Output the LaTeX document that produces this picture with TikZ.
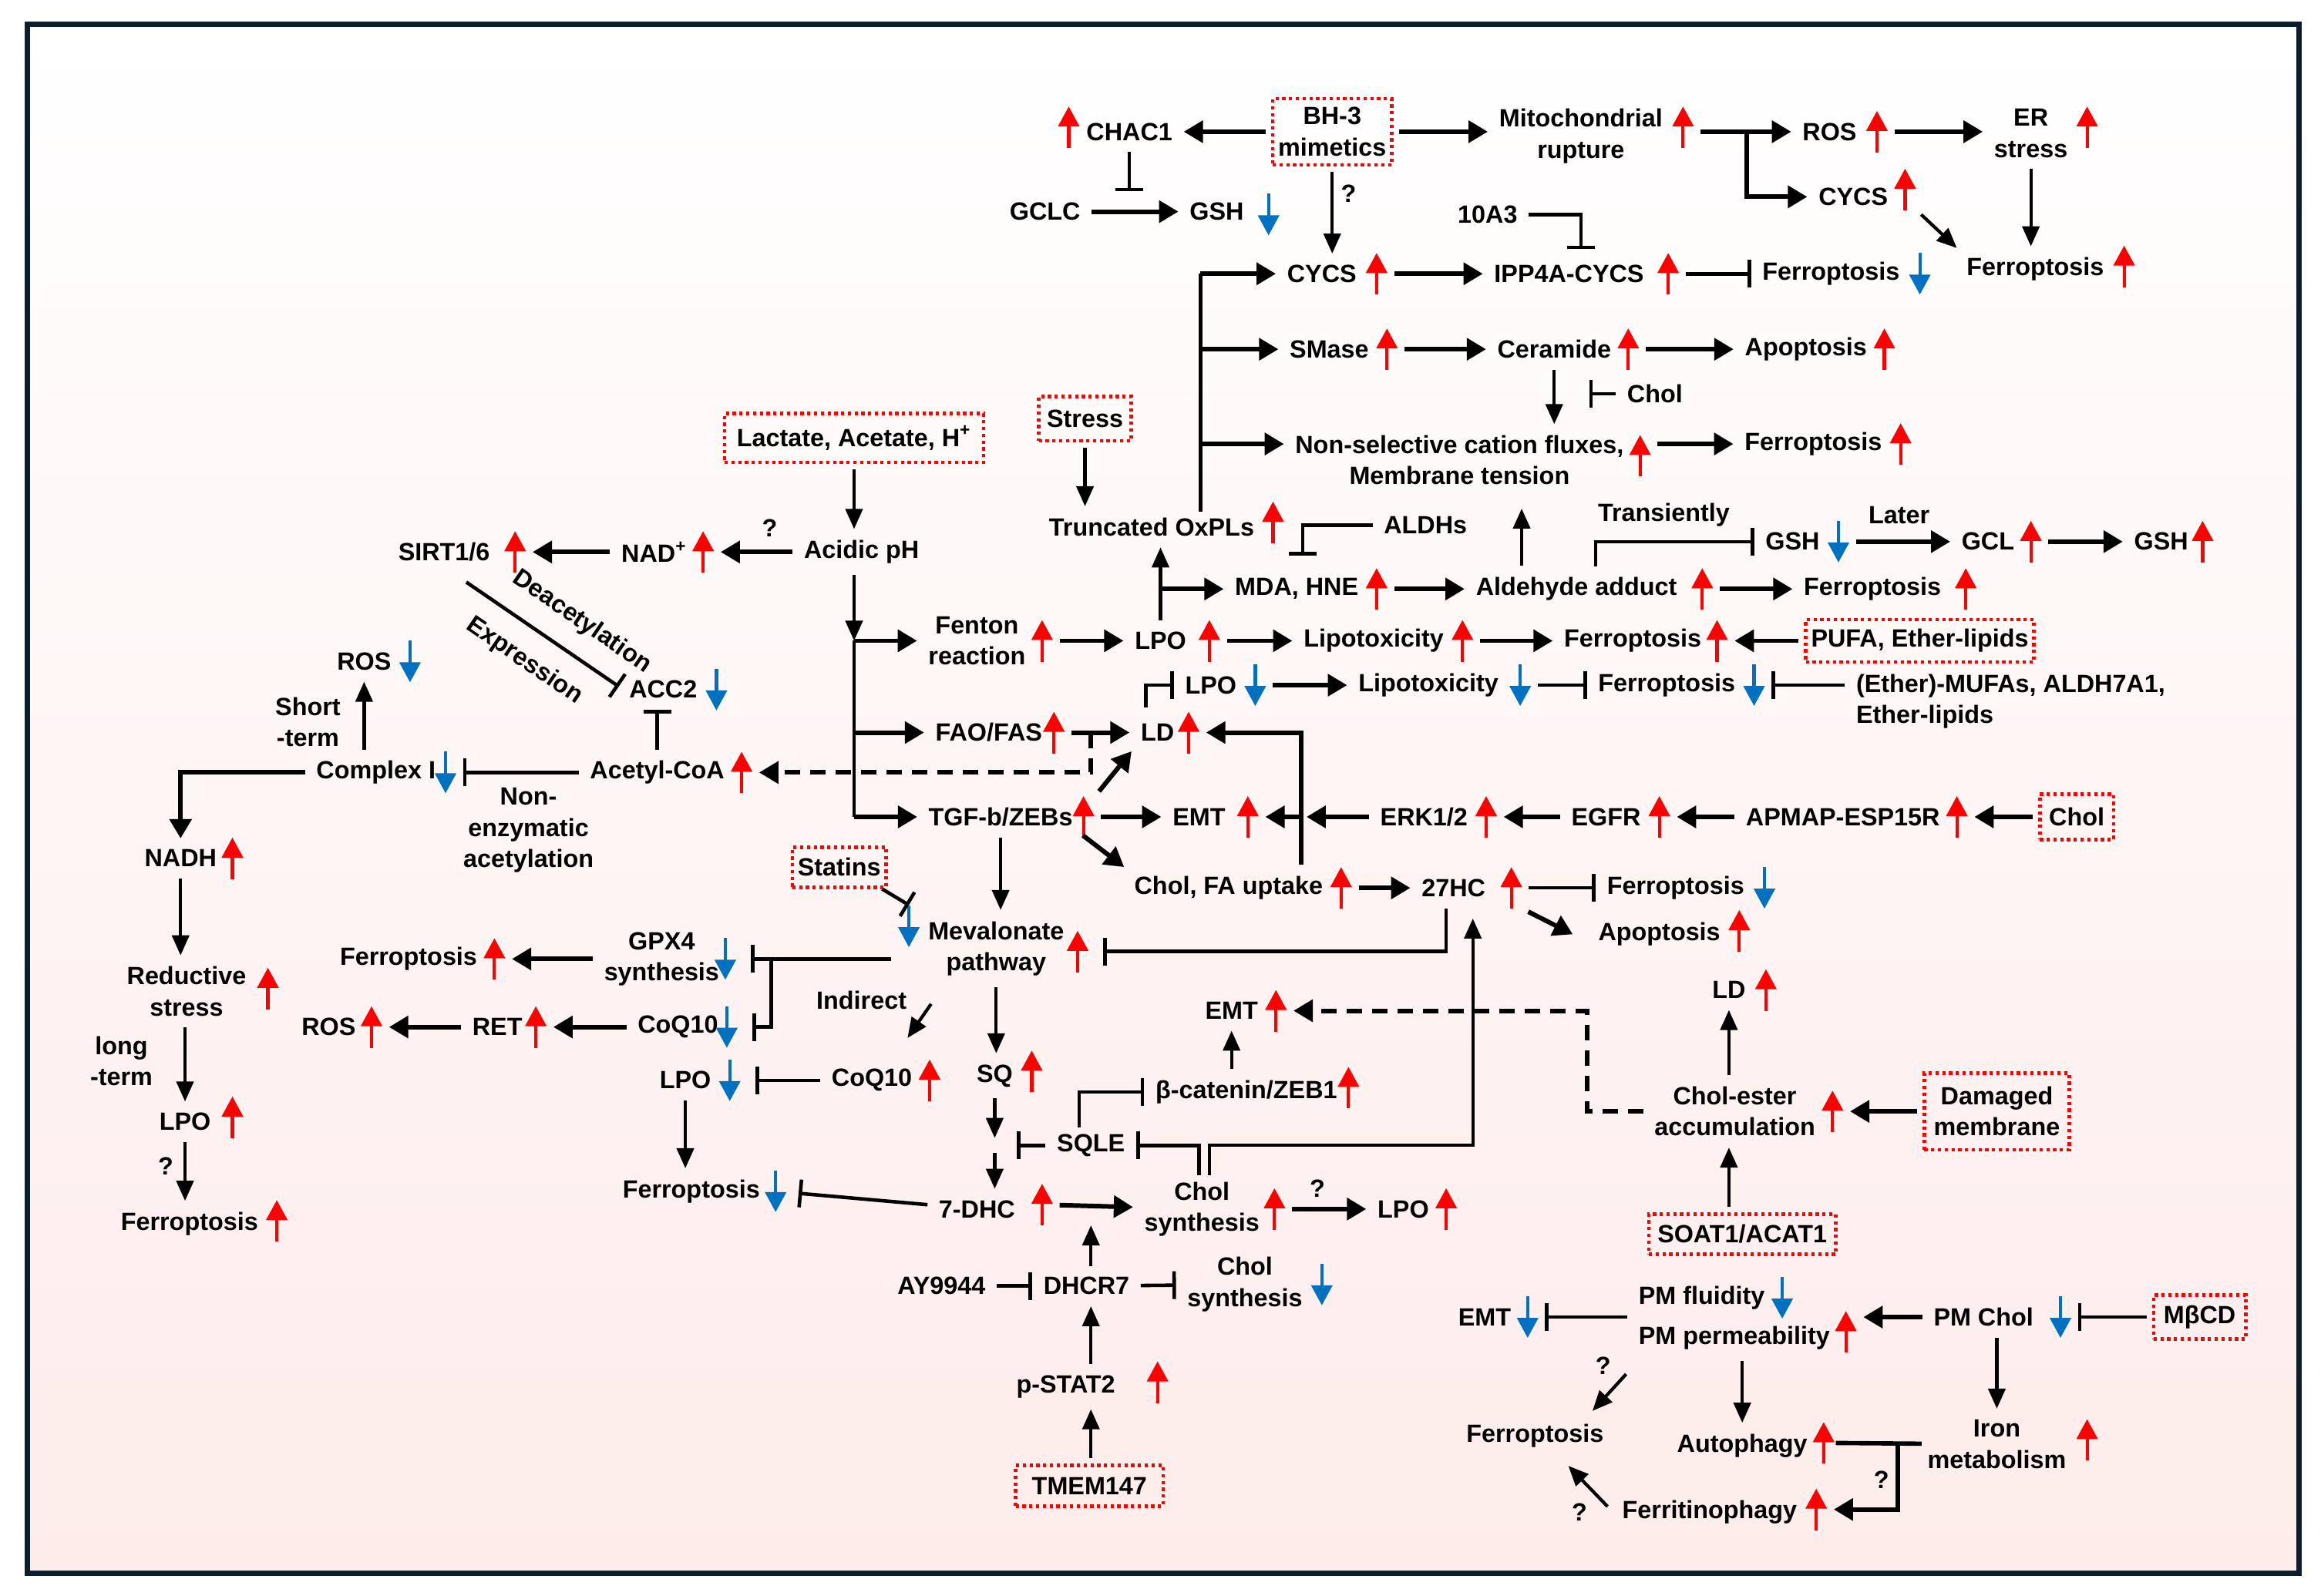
\documentclass[tikz,border=0pt]{standalone}
\usepackage{fontspec}
\setmainfont{Liberation Sans}
\usetikzlibrary{arrows.meta}
\definecolor{upred}{RGB}{255,0,0}
\definecolor{dnblue}{RGB}{0,112,192}
\definecolor{framec}{RGB}{12,29,43}
\definecolor{bgpink}{RGB}{253,236,234}
\tikzset{
  mol/.style={font=\bfseries\fontsize{9.2}{11.5}\selectfont,align=center,inner sep=2pt},
  drug/.style={mol,draw=upred,line width=1.3pt,dash pattern=on 1.2pt off 1.3pt,inner xsep=3pt,inner ysep=4pt},
  upr/.style={inner sep=0pt,minimum width=0.3cm,minimum height=0.54cm,path picture={\draw[upred,line width=1.2pt,-{Triangle[length=0.26cm,width=0.27cm]}] (path picture bounding box.south) -- (path picture bounding box.north);}},
  dnb/.style={inner sep=0pt,minimum width=0.3cm,minimum height=0.54cm,path picture={\draw[dnblue,line width=1.2pt,-{Triangle[length=0.26cm,width=0.27cm]}] (path picture bounding box.north) -- (path picture bounding box.south);}},
  act/.style={line width=1.7pt,-{Triangle[length=0.25cm,width=0.28cm]},shorten <=2pt,shorten >=2pt},
  actv/.style={line width=1.2pt,-{Triangle[length=0.26cm,width=0.22cm]},shorten <=2pt,shorten >=2pt},
  inh/.style={line width=1.3pt,-{Bar[width=0.36cm]},shorten <=2pt,shorten >=2pt},
  dasharr/.style={act,dash pattern=on 0.2cm off 0.13cm},
  plain/.style={line width=1.3pt}
}
\newcommand{\mol}[4]{\node[mol] (#1) at (#2,#3) {#4};}
\newcommand{\drug}[4]{\node[drug] (#1) at (#2,#3) {#4};}
\newcommand{\upr}[3]{\node[upr] (#1) at (#2,#3) {};}
\newcommand{\dnb}[3]{\node[dnb] (#1) at (#2,#3) {};}
\newcommand{\act}[2]{\draw[act] (#1) -- (#2);}
\newcommand{\inh}[2]{\draw[inh] (#1) -- (#2);}

\begin{document}
\begin{tikzpicture}[x=0.0192cm,y=-0.0192cm]
    \useasboundingbox (0,0) rectangle (1568,1078);
    \shade[top color=white,bottom color=bgpink] (18.5,16.5) rectangle (1553,1063);
    \draw[framec,line width=2pt] (18.5,16.5) rectangle (1553,1063);

    \node[drug,inner xsep=2pt,inner ysep=3.2pt] (bh) at (900,89) {BH-3\\mimetics};
    \mol{chac}{763}{89}{CHAC1} \upr{chacU}{722}{86}
    \mol{mito}{1068}{92}{Mitochondrial\\rupture} \upr{mitoU}{1137}{86}
    \mol{rosA}{1236}{89}{ROS} \upr{rosAU}{1268}{89}
    \mol{er}{1372}{90}{ER\\stress} \upr{erU}{1410}{86}
    \mol{cycsA}{1252}{133}{CYCS} \upr{cycsAU}{1287}{128}
    \mol{ferA}{1375}{182}{Ferroptosis} \upr{ferAU}{1435}{180}
    \mol{gclc}{706}{143}{GCLC} \mol{gshA}{822}{143}{GSH} \dnb{gshAD}{857}{145}
    \mol{qA}{911}{131}{?} \mol{tenA}{1005}{145}{10A3}
    \mol{cycsB}{893}{185}{CYCS} \upr{cycsBU}{930}{185}
    \mol{ipp}{1060}{185}{IPP4A-CYCS} \upr{ippU}{1127}{185}
    \mol{ferB}{1237}{185}{Ferroptosis} \dnb{ferBD}{1297}{185}
    \mol{smase}{898}{236}{SMase} \upr{smaseU}{937}{236}
    \mol{cer}{1050}{236}{Ceramide} \upr{cerU}{1100}{236}
    \mol{apoA}{1220}{236}{Apoptosis} \upr{apoAU}{1273}{236}
    \mol{cholA}{1118}{266}{Chol}
    \mol{nsc}{986}{311}{Non-selective cation fluxes,\\Membrane tension} \upr{nscU}{1108}{308}
    \mol{ferC}{1225}{300}{Ferroptosis} \upr{ferCU}{1284}{300}

    \act{bh}{chac} \draw[act] (bh.east) -- (bh.east -| mito.west);
    \draw[act] (mitoU.east |- rosA) -- (rosA);
    \coordinate (brA) at (1180,89); \draw[act,shorten <=0pt] (brA) |- (cycsA);
    \draw[act] (rosAU) -- (er.west |- rosAU);
    \draw[actv] (cycsAU.south east) -- (ferA.north west);
    \draw[actv] (er) -- (er |- ferA.north);
    \draw[actv] (bh) -- (bh |- cycsB.north);
    \act{gclc}{gshA} \draw[inh] (chac) -- (chac |- gshA.north);
    \coordinate (ippT) at (1068,172); \draw[inh] (tenA) -| (ippT);
    \act{cycsBU}{ipp} \inh{ippU}{ferB}
    \act{smaseU}{cer} \act{cerU}{apoA}
    \draw[actv] (cer) -- (cer |- nsc.north);
    \coordinate (cerB) at (1070,266); \inh{cholA}{cerB}
    \draw[act] (nscU.east |- ferC) -- (ferC);

    \mol{trunc}{778}{356}{Truncated OxPLs} \upr{truncU}{860}{353}
    \coordinate (trkT) at (811,185);
    \draw[plain] (trunc.north -| trkT) -- (trkT);
    \draw[act,shorten <=0pt] (trkT) -- (cycsB);
    \draw[act,shorten <=0pt] (trkT |- smase) -- (smase);
    \draw[act,shorten <=0pt] (trkT |- ferC) -- (nsc.west |- ferC);
    \node[drug,inner xsep=3pt,inner ysep=4.9pt] (stress) at (733,283) {Stress};
    \draw[actv] (stress) -- (stress |- trunc.north);

    \node[drug,inner xsep=4.5pt,inner ysep=4.5pt] (lac) at (577,296) {Lactate, Acetate, H\textsuperscript{+}};
    \mol{acid}{582}{373}{Acidic pH} \draw[actv] (lac) -- (lac |- acid.north);
    \mol{nad}{442}{373}{NAD\textsuperscript{+}} \upr{nadU}{475}{373}
    \mol{sirt}{300}{373}{SIRT1/6} \upr{sirtU}{348}{373}
    \mol{qB}{520}{357}{?}
    \act{acid}{nadU} \act{nad}{sirtU}
    \mol{acc}{448}{466}{ACC2} \dnb{accD}{484}{466}
    \draw[inh] ([shift={(12,8)}]sirt.south) -- (acc.west)
        node[mol,pos=0.63,sloped,above=5pt] {Deacetylation}
        node[mol,pos=0.5,sloped,below=5pt] {Expression};
    \mol{acetyl}{444}{522}{Acetyl-CoA} \upr{acetylU}{501}{522}
    \draw[inh] (acetyl) -- (acetyl |- acc.south);
    \mol{compI}{254}{522}{Complex I} \dnb{compID}{301}{522}
    \inh{acetyl}{compID}
    \mol{rosB}{246}{447}{ROS} \dnb{rosBD}{277}{447}
    \mol{shortT}{208}{488}{Short\\-term}
    \draw[actv] (compI.north -| rosB) -- (rosB);
    \mol{nacet}{357}{561}{Non-\\enzymatic\\acetylation}
    \mol{nadh}{122}{580}{NADH} \upr{nadhU}{157}{580}
    \draw[act] (compI) -| (nadh);
    \mol{redst}{126}{670}{Reductive\\stress} \upr{redstU}{181}{668}
    \draw[actv] (nadh) -- (nadh |- redst.north);
    \mol{longT}{82}{717}{long\\-term}
    \mol{lpoA}{125}{758}{LPO} \upr{lpoAU}{157}{755}
    \draw[actv] (redst.south -| lpoA) -- (lpoA);
    \mol{qC}{112}{788}{?}
    \mol{ferD}{128}{827}{Ferroptosis} \upr{ferDU}{187}{825}
    \draw[actv] (lpoA) -- (lpoA |- ferD.north);

    \coordinate (jA) at (577,433); \coordinate (jB) at (577,552);
    \draw[actv,shorten >=0pt] (acid.south -| jA) -- (jA);
    \draw[plain] (jA) -- (jB);
    \mol{fenton}{660}{433}{Fenton\\reaction} \upr{fentonU}{704}{433}
    \draw[act,shorten <=0pt] (jA) -- (fenton);
    \mol{lpoB}{784}{433}{LPO} \upr{lpoBU}{817}{433}
    \mol{lipoA}{928}{433}{Lipotoxicity} \upr{lipoAU}{988}{433}
    \mol{ferE}{1103}{433}{Ferroptosis} \upr{ferEU}{1160}{433}
    \node[drug,inner xsep=2pt,inner ysep=3.5pt] (pufa) at (1297,433) {PUFA, Ether-lipids};
    \act{fentonU}{lpoB} \act{lpoBU}{lipoA} \act{lipoAU}{ferE} \act{pufa}{ferEU}
    \mol{mda}{876}{398}{MDA, HNE} \upr{mdaU}{930}{398}
    \draw[actv] (lpoB.north) -- (lpoB.north |- trunc.south);
    \draw[act,shorten <=0pt] (lpoB.north |- mda) -- (mda);
    \mol{aldh}{963}{355}{ALDHs} \coordinate (aldhB) at (880,379);
    \draw[inh] (aldh) -| (aldhB);
    \mol{ald}{1065}{398}{Aldehyde adduct} \upr{aldU}{1150}{398}
    \act{mdaU}{ald}
    \coordinate (aldT) at (1028,340); \draw[actv] (ald.north -| aldT) -- (aldT);
    \mol{ferF}{1265}{398}{Ferroptosis} \upr{ferFU}{1328}{398}
    \act{aldU}{ferF}
    \mol{trans}{1124}{348}{Transiently}
    \mol{gshB}{1211}{366}{GSH} \dnb{gshBD}{1242}{366}
    \coordinate (trS) at (1078,383); \draw[inh,shorten <=0pt] (trS) |- (gshB);
    \mol{later}{1283}{348}{Later}
    \mol{gcl}{1343}{366}{GCL} \upr{gclU}{1372}{366}
    \mol{gshC}{1460}{366}{GSH} \upr{gshCU}{1488}{366}
    \act{gshBD}{gcl} \act{gclU}{gshC}

    \mol{lpoC}{818}{463}{LPO} \dnb{lpoCD}{848}{463}
    \mol{lipoB}{965}{463}{Lipotoxicity} \dnb{lipoBD}{1027}{463}
    \mol{ferG}{1126}{463}{Ferroptosis} \dnb{ferGD}{1185}{463}
    \node[mol,align=left,anchor=west] (mufa) at (1250,474) {(Ether)-MUFAs, ALDH7A1,\\Ether-lipids};
    \act{lpoCD}{lipoB} \inh{lipoBD}{ferG}
    \draw[inh] (mufa.west |- ferGD) -- (ferGD);

    \mol{fao}{668}{495}{FAO/FAS} \upr{faoU}{712}{495}
    \mol{ldA}{782}{495}{LD} \upr{ldAU}{803}{495}
    \draw[act,shorten <=0pt] (jA |- fao) -- (fao);
    \act{faoU}{ldA}
    \coordinate (ldT) at (774,478); \draw[inh,shorten <=0pt] (ldT) |- (lpoC);
    \coordinate (dsh) at (737,495); \draw[dasharr,shorten <=0pt] (dsh) |- (acetylU);

    \mol{tgf}{676}{552}{TGF-b/ZEBs} \upr{tgfU}{732}{552}
    \mol{emtA}{810}{552}{EMT} \upr{emtAU}{843}{552}
    \mol{erk}{962}{552}{ERK1/2} \upr{erkU}{1004}{552}
    \mol{egfr}{1085}{552}{EGFR} \upr{egfrU}{1121}{552}
    \mol{apmap}{1245}{552}{APMAP-ESP15R} \upr{apmapU}{1322}{552}
    \node[drug,inner xsep=3.4pt,inner ysep=5pt] (cholB) at (1403,552) {Chol};
    \draw[act,shorten <=0pt] (jB) -- (tgf);
    \draw[act] (tgfU.north east) -- (ldA.south west);
    \act{tgfU}{emtA}
    \mol{cfa}{830}{600}{Chol, FA uptake} \upr{cfaU}{906}{600}
    \coordinate (cfR) at (879,588); \draw[act] (cfR) |- (ldAU);
    \draw[act,shorten <=0pt] (cfR |- emtA) -- (emtAU);
    \draw[act] (erk) -- (cfR |- erk);
    \act{egfr}{erkU} \act{apmap}{egfrU} \act{cholB}{apmapU}
    \draw[act] (tgf.south east) -- (cfa.north west);
    \mol{hc}{982}{600}{27HC} \upr{hcU}{1021}{600}
    \mol{ferH}{1132}{600}{Ferroptosis} \dnb{ferHD}{1192}{600}
    \mol{apoB}{1121}{631}{Apoptosis} \upr{apoBU}{1175}{629}
    \act{cfaU}{hc} \inh{hcU}{ferH}
    \draw[act] (hcU.south east) -- ([shift={(-10,2)}]apoB.west);

    \node[drug,inner xsep=2pt,inner ysep=4pt] (statins) at (567,586) {Statins};
    \mol{meva}{673}{641}{Mevalonate\\pathway} \dnb{mevaD}{614}{626} \upr{mevaU}{728}{643}
    \draw[inh,shorten <=0pt,shorten >=0pt] ([shift={(-4,0)}]statins.south east) -- (mevaD.north);
    \draw[actv] (tgf.south) -- (tgf.south |- meva.north);
    \coordinate (hcS) at (977,614); \draw[inh,shorten <=0pt,shorten >=5pt] (hcS) |- (mevaU);
    \mol{gpx}{447}{648}{GPX4\\synthesis} \dnb{gpxD}{490}{648}
    \mol{ferI}{276}{648}{Ferroptosis} \upr{ferIU}{334}{648}
    \draw[inh,shorten >=5pt] (mevaD.west |- gpxD) -- (gpxD);
    \mol{coqA}{458}{694}{CoQ10} \dnb{coqAD}{491}{694}
    \coordinate (jG) at (521,648); \draw[inh,shorten <=0pt,shorten >=5pt] (jG) |- (coqAD);
    \mol{ret}{336}{694}{RET} \upr{retU}{362}{694}
    \mol{rosC}{222}{694}{ROS} \upr{rosCU}{251}{694}
    \act{gpx}{ferIU} \act{coqA}{retU} \act{ret}{rosCU}
    \mol{indir}{582}{676}{Indirect}
    \mol{coqB}{589}{730}{CoQ10} \upr{coqBU}{628}{730}
    \mol{sq}{672}{727}{SQ} \upr{sqU}{697}{724}
    \mol{lpoD}{463}{730}{LPO} \dnb{lpoDD}{493}{730}
    \mol{ferJ}{467}{805}{Ferroptosis} \dnb{ferJD}{524}{805}
    \draw[actv] ([shift={(8,12)}]meva.south west) -- ([shift={(22,-14)}]coqB.north);
    \draw[actv] (meva) -- (meva |- sq.north);
    \draw[inh,shorten >=5pt] (coqB) -- (lpoDD);
    \draw[actv] (lpoD) -- (lpoD |- ferJ.north);

    \coordinate (sqA) at (672,769); \coordinate (sqB) at (672,779);
    \draw[actv,shorten >=0pt] (sq) -- (sqA);
    \mol{dhc}{660}{817}{7-DHC} \upr{dhcU}{704}{814}
    \draw[actv,shorten <=0pt] (sqB) -- (sqB |- dhc.north);
    \mol{sqle}{737}{774}{SQLE} \coordinate (sqBar) at (687,774);
    \draw[inh,shorten >=0pt] (sqle) -- (sqBar);
    \mol{bcat}{842}{738}{β-catenin/ZEB1} \upr{bcatU}{911}{735}
    \mol{emtB}{832}{683}{EMT} \upr{emtBU}{862}{683}
    \coordinate (sqT) at (729,762); \draw[inh,shorten <=0pt] (sqT) |- (bcat);
    \draw[actv] (bcat.north -| emtB) -- (emtB);
    \mol{csA}{812}{817}{Chol\\synthesis} \upr{csAU}{861}{817}
    \mol{lpoE}{948}{817}{LPO} \upr{lpoEU}{977}{817}
    \mol{qD}{890}{803}{?}
    \act{dhcU}{csA} \act{csAU}{lpoE}
    \draw[inh,shorten >=4pt] (dhc) -- (ferJD);
    \coordinate (csL) at (810,794); \coordinate (csR) at (817,794);
    \draw[inh,shorten <=0pt] (csL) |- (sqle);
    \coordinate (hcIn) at (995,617);
    \draw[actv,shorten <=0pt] (csR) |- (hcIn |- sqle) -- (hcIn);
    \mol{dhcr}{734}{869}{DHCR7} \mol{ay}{636}{869}{AY9944}
    \mol{csB}{841}{868}{Chol\\synthesis} \dnb{csBD}{893}{868}
    \coordinate (dhT) at (737,828); \draw[actv,shorten >=0pt] (dhcr.north -| dhT) -- (dhT);
    \inh{ay}{dhcr} \inh{dhcr}{csB}
    \mol{pstat}{720}{937}{p-STAT2} \upr{pstatU}{782}{934}
    \node[drug,inner xsep=6pt,inner ysep=4.3pt] (tmem) at (736,1004) {TMEM147};
    \draw[actv] (pstat.north -| dhT) -- (dhcr.south -| dhT);
    \draw[actv] (tmem.north -| dhT) -- (pstat.south -| dhT);

    \mol{ldB}{1168}{669}{LD} \upr{ldBU}{1193}{669}
    \mol{ce}{1172}{751}{Chol-ester\\accumulation} \upr{ceU}{1238}{751}
    \node[drug,inner xsep=3.5pt,inner ysep=5pt] (dm) at (1349,751) {Damaged\\membrane};
    \node[drug,inner xsep=3.2pt,inner ysep=4pt] (soat) at (1177,834) {SOAT1/ACAT1};
    \draw[actv] (ce.north -| ldB) -- (ldB);
    \act{dm}{ceU}
    \draw[actv] (soat.north -| ldB) -- (ce.south -| ldB);
    \coordinate (dshB) at (1072,683); \draw[dasharr] (ce.west) -| (dshB) -- (emtBU);
    \node[mol,anchor=west] (pmf) at (1103,877) {PM fluidity}; \dnb{pmfD}{1204}{877}
    \node[mol,anchor=west] (pmp) at (1103,904) {PM permeability}; \upr{pmpU}{1247}{900}
    \mol{emtC}{1003}{890}{EMT} \dnb{emtCD}{1032}{890}
    \mol{pmc}{1340}{890}{PM Chol} \dnb{pmcD}{1392}{890}
    \node[drug,inner xsep=3.7pt,inner ysep=3.8pt] (mbcd) at (1486,890) {MβCD};
    \draw[inh] (pmf.west |- emtC) -- (emtCD);
    \draw[act] (pmc) -- (pmpU.east |- pmc);
    \inh{mbcd}{pmcD}
    \mol{ferK}{1037}{970}{Ferroptosis}
    \mol{autoph}{1177}{977}{Autophagy} \upr{autophU}{1232}{975}
    \mol{iron}{1349}{976}{Iron\\metabolism} \upr{ironU}{1410}{973}
    \mol{ferrit}{1155}{1022}{Ferritinophagy} \upr{ferritU}{1227}{1020}
    \mol{qE}{1083}{923}{?} \mol{qF}{1271}{1000}{?} \mol{qG}{1067}{1022}{?}
    \draw[actv] ([shift={(-2,10)}]pmp.south west) -- ([shift={(-14,-2)}]ferK.north east);
    \draw[actv] (pmp.south -| autoph) -- (autoph);
    \draw[actv] (pmc.south -| iron) -- (iron);
    \draw[plain,line width=1.6pt] (autophU) -- (iron);
    \coordinate (jI) at (1282,975); \draw[act,shorten <=0pt] (jI) |- (ferritU);
    \draw[actv,shorten <=0pt] ([shift={(-6,-4)}]ferrit.west) -- ([shift={(20,6)}]ferK.south);
\end{tikzpicture}
\end{document}
